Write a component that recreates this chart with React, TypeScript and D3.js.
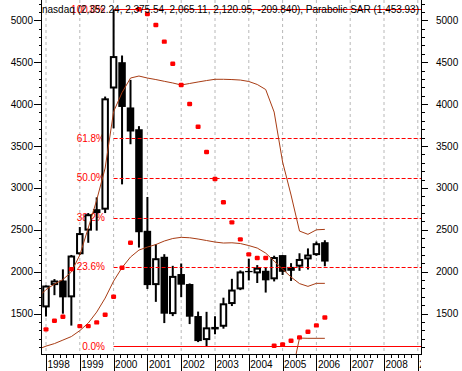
import React from 'react';
import * as d3 from 'd3';

const titleText = 'nasdaq (2,352.24, 2,375.54, 2,065.11, 2,120.95, -209.840), Parabolic SAR (1,453.93)';

const quarters = [
  '1998Q1', '1998Q2', '1998Q3', '1998Q4',
  '1999Q1', '1999Q2', '1999Q3', '1999Q4',
  '2000Q1', '2000Q2', '2000Q3', '2000Q4',
  '2001Q1', '2001Q2', '2001Q3', '2001Q4',
  '2002Q1', '2002Q2', '2002Q3', '2002Q4',
  '2003Q1', '2003Q2', '2003Q3', '2003Q4',
  '2004Q1', '2004Q2', '2004Q3', '2004Q4',
  '2005Q1', '2005Q2', '2005Q3', '2005Q4',
  '2006Q1', '2006Q2',
];
const opens = [1574, 1840, 1895, 1694, 2208, 2490, 2700, 2740, 4186, 4500, 3960, 3700, 2488, 1840, 2178, 1494, 1972, 1853, 1471, 1184, 1335, 1343, 1614, 1789, 2009, 1980, 2011, 1909, 2198, 2011, 2060, 2147, 2198, 2352.24];
const highs = [1836, 1912, 2028, 2200, 2533, 2700, 2887, 4090, 5132.52, 4580, 4289, 3737, 2892, 2328, 2209, 2070, 2098, 1860, 1524, 1521, 1467, 1690, 1915, 2015, 2154, 2079, 2050, 2191, 2198, 2102, 2220, 2278, 2360, 2375.54];
const lows = [1465, 1720, 1499, 1357, 2200, 2345, 2490, 2700, 3711, 3042, 3521, 2288, 1794, 1640, 1387, 1470, 1696, 1375, 1160, 1108.49, 1253, 1320, 1590, 1780, 1896, 1865, 1751, 1884, 1960, 1890, 2010, 2026, 2189, 2065.11];
const closes = [1835, 1895, 1694, 2193, 2461, 2686, 2746, 4069, 4573, 3966, 3673, 2471, 1840, 2161, 1499, 1950, 1845, 1463, 1172, 1336, 1341, 1623, 1787, 2003, 1994, 2048, 1897, 2175, 1999, 2057, 2152, 2205, 2340, 2120.95];
const sar = [1312, 1414, 1462, 2031, 1351, 1351, 1395, 1486, 1701, 2047, 2345, 5132, 5075, 4944, 4745, 4482, 4228, 4001, 3730, 3428, 3106, 2828, 2589, 2386, 2207, 2163, 2163, 1116, 1133, 1176, 1216, 1283, 1359, 1454];

const bandQuarters = ['1997Q4', ...quarters];
const upperBand = [1686, 1787, 1852, 1906, 1996, 2199, 2521, 2855, 3237, 3910, 4138, 4311, 4335, 4311, 4293, 4272, 4252, 4228, 4246, 4264, 4281, 4296, 4296, 4293, 4287, 4270, 4234, 4174, 3905, 3309, 2915, 2485, 2446, 2500, 2505];
const lowerBand = [1071, 1112, 1142, 1184, 1226, 1297, 1387, 1518, 1685, 1888, 2049, 2175, 2258, 2294, 2324, 2366, 2396, 2410, 2405, 2390, 2372, 2354, 2342, 2345, 2336, 2312, 2282, 2222, 2127, 2031, 1936, 1858, 1825, 1861, 1861];
const extraQuarters = ['2005Q2', '2005Q3', '2005Q4', '2006Q1', '2006Q2'];
const extraBand = [735, 1208, 1205, 1205, 1205];

const fibHigh = 5132.52;
const fibLow = 1108.49;
const fibLevels = [0, 0.236, 0.382, 0.5, 0.618, 1];
const fibLabels = ['0.0%', '23.6%', '38.2%', '50.0%', '61.8%', '100.0%'];
const fibStart = 2000;

const years = [1998, 1999, 2000, 2001, 2002, 2003, 2004, 2005, 2006, 2007, 2008, 2009];
const yTicks = [1500, 2000, 2500, 3000, 3500, 4000, 4500, 5000];

const W = 462;
const H = 371;
const L = 41;
const R = 421;
const T = 0;
const B = 354;
const FONT = '"Liberation Sans", Arial, sans-serif';
const BROWN = '#a83c14';
const RED = '#ff0000';

export default function App() {
  const x = d3.scaleLinear().domain([1998, 2006]).range([46, 316.4]);
  const y = d3.scaleLinear().domain([1500, 5000]).range([313.6, 20.3]);
  const qv = (s: string) => +s.slice(0, 4) + (+s.slice(5) - 1) * 0.25;
  const qx = (s: string) => x(qv(s));

  const line = d3.line<[number, number]>().x((d) => d[0]).y((d) => d[1]);
  const upperPath = line(bandQuarters.map((q, i) => [qx(q), y(upperBand[i])]));
  const lowerPath = line(bandQuarters.map((q, i) => [qx(q), y(lowerBand[i])]));
  const extraPath = line(extraQuarters.map((q, i) => [qx(q), y(extraBand[i])]));

  const minorY = d3.range(1100, 5201, 100);
  const minorX: number[] = [];
  years.forEach((yr) => {
    for (let k = 1; k < 5; k++) minorX.push(yr + k / 5);
  });

  const cw = 7.5;

  return (
    <svg width={W} height={H} style={{ position: 'absolute', left: 0, top: 0, background: '#fff' }} fontFamily={FONT}>
      <defs>
        <clipPath id="plotClip">
          <rect x={L} y={T} width={R - L} height={B - T} />
        </clipPath>
        <clipPath id="axisClip">
          <rect x={0} y={0} width={R} height={H} />
        </clipPath>
      </defs>
      <rect x={0} y={0} width={W} height={H} fill="#fff" />

      {/* vertical grid */}
      {years.map((yr) => (
        <line key={'g' + yr} x1={x(yr)} x2={x(yr)} y1={T} y2={B} stroke="#b8b8b8" strokeDasharray="3 3" />
      ))}

      {/* fib labels (behind candles) */}
      {fibLevels.map((lv, i) => {
        const v = fibLow + lv * (fibHigh - fibLow);
        return (
          <text key={'fl' + i} x={105} y={y(v) + 3.5} fill={RED} fontSize={10} textAnchor="end">
            {fibLabels[i]}
          </text>
        );
      })}

      <g clipPath="url(#plotClip)">
        {/* candles */}
        {quarters.map((q, i) => {
          const cx = qx(q);
          const up = closes[i] >= opens[i];
          const top = y(Math.max(opens[i], closes[i]));
          const bot = y(Math.min(opens[i], closes[i]));
          return (
            <g key={'c' + q}>
              <line x1={cx} x2={cx} y1={y(highs[i])} y2={y(lows[i])} stroke="#000" strokeWidth={2} />
              {up ? (
                <rect x={cx - cw / 2 + 1} y={top + 1} width={cw - 2} height={Math.max(bot - top - 2, 0.5)} fill="#fff" stroke="#000" strokeWidth={2} />
              ) : (
                <rect x={cx - cw / 2} y={top} width={cw} height={Math.max(bot - top, 1)} fill="#000" />
              )}
            </g>
          );
        })}

        {/* fib lines */}
        {fibLevels.map((lv, i) => {
          const v = fibLow + lv * (fibHigh - fibLow);
          const solid = lv === 0 || lv === 1;
          return (
            <line key={'f' + i} x1={x(fibStart)} x2={R} y1={Math.round(y(v)) + 0.5} y2={Math.round(y(v)) + 0.5} stroke={RED} strokeWidth={1} strokeDasharray={solid ? undefined : '4 2'} />
          );
        })}

        {/* bands */}
        <path d={upperPath || ''} fill="none" stroke={BROWN} strokeWidth={1} />
        <path d={lowerPath || ''} fill="none" stroke={BROWN} strokeWidth={1} />
        <path d={extraPath || ''} fill="none" stroke={BROWN} strokeWidth={1} />

        {/* parabolic SAR */}
        {quarters.map((q, i) => (
          <rect key={'s' + q} x={qx(q) - 2.5} y={y(sar[i]) - 2.2} width={5} height={4.4} rx={1.2} fill={RED} />
        ))}
      </g>

      {/* title */}
      <text x={42} y={12.5} fontSize={10} fill="#000" textLength={377} lengthAdjust="spacing">
        {titleText}
      </text>

      {/* axes */}
      <line x1={L + 0.5} x2={L + 0.5} y1={T} y2={B} stroke="#000" />
      <line x1={R + 0.5} x2={R + 0.5} y1={T} y2={B} stroke="#000" />
      <line x1={L} x2={R + 1} y1={B + 0.5} y2={B + 0.5} stroke="#000" />

      {minorY.map((v) => (
        <g key={'my' + v}>
          <line x1={L - 2} x2={L} y1={Math.round(y(v)) + 0.5} y2={Math.round(y(v)) + 0.5} stroke="#000" />
          <line x1={R + 1} x2={R + 4} y1={Math.round(y(v)) + 0.5} y2={Math.round(y(v)) + 0.5} stroke="#000" />
        </g>
      ))}
      {yTicks.map((v) => (
        <g key={'y' + v}>
          <line x1={L - 7} x2={L} y1={Math.round(y(v)) + 0.5} y2={Math.round(y(v)) + 0.5} stroke="#000" />
          <line x1={R + 1} x2={R + 7} y1={Math.round(y(v)) + 0.5} y2={Math.round(y(v)) + 0.5} stroke="#000" />
          <text x={33} y={y(v) + 3.5} fontSize={10} textAnchor="end" fill="#000">{v}</text>
          <text x={436} y={y(v) + 3.5} fontSize={10} textAnchor="start" fill="#000">{v}</text>
        </g>
      ))}

      <g clipPath="url(#axisClip)">
        {minorX.filter((v) => x(v) < R).map((v, i) => (
          <line key={'mx' + i} x1={Math.round(x(v)) + 0.5} x2={Math.round(x(v)) + 0.5} y1={B} y2={B + 4} stroke="#000" />
        ))}
        {years.map((yr) => (
          <g key={'x' + yr}>
            <line x1={Math.round(x(yr)) + 0.5} x2={Math.round(x(yr)) + 0.5} y1={B} y2={H} stroke="#000" />
            <text x={x(yr) + 1.5} y={368} fontSize={10} fill="#000">{yr}</text>
          </g>
        ))}
      </g>
    </svg>
  );
}
